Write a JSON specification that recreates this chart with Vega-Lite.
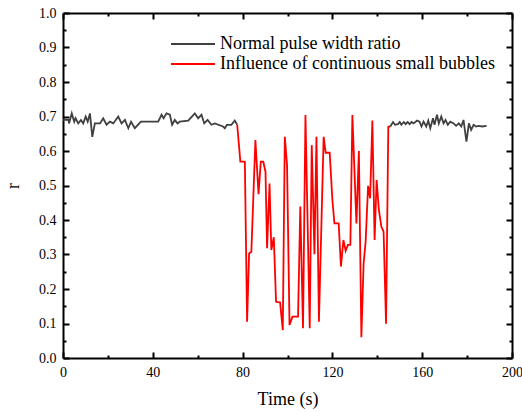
{
  "$schema": "https://vega.github.io/schema/vega-lite/v6.json",
  "width": 449,
  "height": 345,
  "autosize": {"type": "none"},
  "padding": {"left": 63, "top": 13, "right": 10, "bottom": 54},
  "background": "white",
  "config": {
    "view": {"stroke": null},
    "font": "Liberation Serif",
    "axis": {"labelFont": "Liberation Serif", "titleFont": "Liberation Serif", "labelColor": "black", "titleColor": "black", "domainColor": "black", "tickColor": "black", "grid": false, "titleFontWeight": "normal", "labelFlush": false, "labelOverlap": false}
  },
  "data": {"values": [
    {"t":0,"r":0.69,"series":"Normal pulse width ratio","seg":1},
    {"t":2.4,"r":0.69,"series":"Normal pulse width ratio","seg":1},
    {"t":2.7,"r":0.68,"series":"Normal pulse width ratio","seg":1},
    {"t":3.9,"r":0.709,"series":"Normal pulse width ratio","seg":1},
    {"t":5.0,"r":0.685,"series":"Normal pulse width ratio","seg":1},
    {"t":5.6,"r":0.695,"series":"Normal pulse width ratio","seg":1},
    {"t":6.8,"r":0.68,"series":"Normal pulse width ratio","seg":1},
    {"t":8.0,"r":0.69,"series":"Normal pulse width ratio","seg":1},
    {"t":9.0,"r":0.68,"series":"Normal pulse width ratio","seg":1},
    {"t":10.1,"r":0.70,"series":"Normal pulse width ratio","seg":1},
    {"t":11.0,"r":0.685,"series":"Normal pulse width ratio","seg":1},
    {"t":12.0,"r":0.709,"series":"Normal pulse width ratio","seg":1},
    {"t":13.05,"r":0.641,"series":"Normal pulse width ratio","seg":1},
    {"t":14.2,"r":0.68,"series":"Normal pulse width ratio","seg":1},
    {"t":16.5,"r":0.68,"series":"Normal pulse width ratio","seg":1},
    {"t":17.9,"r":0.695,"series":"Normal pulse width ratio","seg":1},
    {"t":19.4,"r":0.676,"series":"Normal pulse width ratio","seg":1},
    {"t":20.9,"r":0.685,"series":"Normal pulse width ratio","seg":1},
    {"t":22.4,"r":0.68,"series":"Normal pulse width ratio","seg":1},
    {"t":24.6,"r":0.70,"series":"Normal pulse width ratio","seg":1},
    {"t":26.1,"r":0.68,"series":"Normal pulse width ratio","seg":1},
    {"t":27.6,"r":0.69,"series":"Normal pulse width ratio","seg":1},
    {"t":29.1,"r":0.666,"series":"Normal pulse width ratio","seg":1},
    {"t":30.3,"r":0.685,"series":"Normal pulse width ratio","seg":1},
    {"t":32.0,"r":0.666,"series":"Normal pulse width ratio","seg":1},
    {"t":34.7,"r":0.685,"series":"Normal pulse width ratio","seg":1},
    {"t":42.4,"r":0.685,"series":"Normal pulse width ratio","seg":1},
    {"t":43.9,"r":0.705,"series":"Normal pulse width ratio","seg":1},
    {"t":44.8,"r":0.695,"series":"Normal pulse width ratio","seg":1},
    {"t":46.1,"r":0.709,"series":"Normal pulse width ratio","seg":1},
    {"t":47.6,"r":0.705,"series":"Normal pulse width ratio","seg":1},
    {"t":48.6,"r":0.676,"series":"Normal pulse width ratio","seg":1},
    {"t":49.8,"r":0.69,"series":"Normal pulse width ratio","seg":1},
    {"t":51.0,"r":0.68,"series":"Normal pulse width ratio","seg":1},
    {"t":52.0,"r":0.685,"series":"Normal pulse width ratio","seg":1},
    {"t":55.8,"r":0.688,"series":"Normal pulse width ratio","seg":1},
    {"t":58.7,"r":0.709,"series":"Normal pulse width ratio","seg":1},
    {"t":60.2,"r":0.695,"series":"Normal pulse width ratio","seg":1},
    {"t":61.7,"r":0.705,"series":"Normal pulse width ratio","seg":1},
    {"t":62.9,"r":0.68,"series":"Normal pulse width ratio","seg":1},
    {"t":64.4,"r":0.69,"series":"Normal pulse width ratio","seg":1},
    {"t":66.1,"r":0.676,"series":"Normal pulse width ratio","seg":1},
    {"t":67.6,"r":0.68,"series":"Normal pulse width ratio","seg":1},
    {"t":71.3,"r":0.671,"series":"Normal pulse width ratio","seg":1},
    {"t":72.1,"r":0.666,"series":"Normal pulse width ratio","seg":1},
    {"t":73.0,"r":0.676,"series":"Normal pulse width ratio","seg":1},
    {"t":75.0,"r":0.676,"series":"Normal pulse width ratio","seg":1},
    {"t":76.5,"r":0.688,"series":"Normal pulse width ratio","seg":1},
    {"t":77.6,"r":0.676,"series":"Normal pulse width ratio","seg":1},
    {"t":77.6,"r":0.676,"series":"Influence of continuous small bubbles","seg":2},
    {"t":79.0,"r":0.569,"series":"Influence of continuous small bubbles","seg":2},
    {"t":81.0,"r":0.569,"series":"Influence of continuous small bubbles","seg":2},
    {"t":82.0,"r":0.105,"series":"Influence of continuous small bubbles","seg":2},
    {"t":82.9,"r":0.303,"series":"Influence of continuous small bubbles","seg":2},
    {"t":83.9,"r":0.308,"series":"Influence of continuous small bubbles","seg":2},
    {"t":85.7,"r":0.632,"series":"Influence of continuous small bubbles","seg":2},
    {"t":87.1,"r":0.475,"series":"Influence of continuous small bubbles","seg":2},
    {"t":88.1,"r":0.569,"series":"Influence of continuous small bubbles","seg":2},
    {"t":89.2,"r":0.569,"series":"Influence of continuous small bubbles","seg":2},
    {"t":90.2,"r":0.54,"series":"Influence of continuous small bubbles","seg":2},
    {"t":90.9,"r":0.318,"series":"Influence of continuous small bubbles","seg":2},
    {"t":92.0,"r":0.506,"series":"Influence of continuous small bubbles","seg":2},
    {"t":92.8,"r":0.313,"series":"Influence of continuous small bubbles","seg":2},
    {"t":93.9,"r":0.35,"series":"Influence of continuous small bubbles","seg":2},
    {"t":94.9,"r":0.163,"series":"Influence of continuous small bubbles","seg":2},
    {"t":96.7,"r":0.161,"series":"Influence of continuous small bubbles","seg":2},
    {"t":97.9,"r":0.081,"series":"Influence of continuous small bubbles","seg":2},
    {"t":98.8,"r":0.641,"series":"Influence of continuous small bubbles","seg":2},
    {"t":99.8,"r":0.559,"series":"Influence of continuous small bubbles","seg":2},
    {"t":100.9,"r":0.096,"series":"Influence of continuous small bubbles","seg":2},
    {"t":102.2,"r":0.12,"series":"Influence of continuous small bubbles","seg":2},
    {"t":104.7,"r":0.12,"series":"Influence of continuous small bubbles","seg":2},
    {"t":105.7,"r":0.439,"series":"Influence of continuous small bubbles","seg":2},
    {"t":106.9,"r":0.086,"series":"Influence of continuous small bubbles","seg":2},
    {"t":108.0,"r":0.704,"series":"Influence of continuous small bubbles","seg":2},
    {"t":109.9,"r":0.086,"series":"Influence of continuous small bubbles","seg":2},
    {"t":110.8,"r":0.617,"series":"Influence of continuous small bubbles","seg":2},
    {"t":112.0,"r":0.301,"series":"Influence of continuous small bubbles","seg":2},
    {"t":112.9,"r":0.641,"series":"Influence of continuous small bubbles","seg":2},
    {"t":114.0,"r":0.105,"series":"Influence of continuous small bubbles","seg":2},
    {"t":116.1,"r":0.641,"series":"Influence of continuous small bubbles","seg":2},
    {"t":117.0,"r":0.595,"series":"Influence of continuous small bubbles","seg":2},
    {"t":118.8,"r":0.595,"series":"Influence of continuous small bubbles","seg":2},
    {"t":120.0,"r":0.458,"series":"Influence of continuous small bubbles","seg":2},
    {"t":120.9,"r":0.39,"series":"Influence of continuous small bubbles","seg":2},
    {"t":122.8,"r":0.39,"series":"Influence of continuous small bubbles","seg":2},
    {"t":123.8,"r":0.265,"series":"Influence of continuous small bubbles","seg":2},
    {"t":124.9,"r":0.342,"series":"Influence of continuous small bubbles","seg":2},
    {"t":125.9,"r":0.311,"series":"Influence of continuous small bubbles","seg":2},
    {"t":126.9,"r":0.328,"series":"Influence of continuous small bubbles","seg":2},
    {"t":128.0,"r":0.328,"series":"Influence of continuous small bubbles","seg":2},
    {"t":128.9,"r":0.704,"series":"Influence of continuous small bubbles","seg":2},
    {"t":130.7,"r":0.39,"series":"Influence of continuous small bubbles","seg":2},
    {"t":131.8,"r":0.6,"series":"Influence of continuous small bubbles","seg":2},
    {"t":132.9,"r":0.06,"series":"Influence of continuous small bubbles","seg":2},
    {"t":133.9,"r":0.274,"series":"Influence of continuous small bubbles","seg":2},
    {"t":134.8,"r":0.337,"series":"Influence of continuous small bubbles","seg":2},
    {"t":135.9,"r":0.499,"series":"Influence of continuous small bubbles","seg":2},
    {"t":136.8,"r":0.463,"series":"Influence of continuous small bubbles","seg":2},
    {"t":137.8,"r":0.688,"series":"Influence of continuous small bubbles","seg":2},
    {"t":138.8,"r":0.342,"series":"Influence of continuous small bubbles","seg":2},
    {"t":139.7,"r":0.516,"series":"Influence of continuous small bubbles","seg":2},
    {"t":140.7,"r":0.429,"series":"Influence of continuous small bubbles","seg":2},
    {"t":141.8,"r":0.381,"series":"Influence of continuous small bubbles","seg":2},
    {"t":142.8,"r":0.366,"series":"Influence of continuous small bubbles","seg":2},
    {"t":143.9,"r":0.099,"series":"Influence of continuous small bubbles","seg":2},
    {"t":144.9,"r":0.67,"series":"Influence of continuous small bubbles","seg":2},
    {"t":145.8,"r":0.671,"series":"Influence of continuous small bubbles","seg":2},
    {"t":145.8,"r":0.671,"series":"Normal pulse width ratio","seg":3},
    {"t":147.0,"r":0.684,"series":"Normal pulse width ratio","seg":3},
    {"t":147.9,"r":0.676,"series":"Normal pulse width ratio","seg":3},
    {"t":149.2,"r":0.678,"series":"Normal pulse width ratio","seg":3},
    {"t":150.0,"r":0.684,"series":"Normal pulse width ratio","seg":3},
    {"t":150.7,"r":0.676,"series":"Normal pulse width ratio","seg":3},
    {"t":151.8,"r":0.684,"series":"Normal pulse width ratio","seg":3},
    {"t":152.6,"r":0.678,"series":"Normal pulse width ratio","seg":3},
    {"t":153.5,"r":0.684,"series":"Normal pulse width ratio","seg":3},
    {"t":154.4,"r":0.678,"series":"Normal pulse width ratio","seg":3},
    {"t":155.3,"r":0.684,"series":"Normal pulse width ratio","seg":3},
    {"t":156.2,"r":0.68,"series":"Normal pulse width ratio","seg":3},
    {"t":157.7,"r":0.688,"series":"Normal pulse width ratio","seg":3},
    {"t":158.8,"r":0.685,"series":"Normal pulse width ratio","seg":3},
    {"t":159.7,"r":0.671,"series":"Normal pulse width ratio","seg":3},
    {"t":160.6,"r":0.685,"series":"Normal pulse width ratio","seg":3},
    {"t":161.8,"r":0.671,"series":"Normal pulse width ratio","seg":3},
    {"t":162.7,"r":0.688,"series":"Normal pulse width ratio","seg":3},
    {"t":163.6,"r":0.666,"series":"Normal pulse width ratio","seg":3},
    {"t":164.8,"r":0.695,"series":"Normal pulse width ratio","seg":3},
    {"t":165.5,"r":0.676,"series":"Normal pulse width ratio","seg":3},
    {"t":166.6,"r":0.705,"series":"Normal pulse width ratio","seg":3},
    {"t":167.4,"r":0.68,"series":"Normal pulse width ratio","seg":3},
    {"t":168.5,"r":0.70,"series":"Normal pulse width ratio","seg":3},
    {"t":169.5,"r":0.68,"series":"Normal pulse width ratio","seg":3},
    {"t":170.4,"r":0.69,"series":"Normal pulse width ratio","seg":3},
    {"t":171.4,"r":0.676,"series":"Normal pulse width ratio","seg":3},
    {"t":172.5,"r":0.685,"series":"Normal pulse width ratio","seg":3},
    {"t":174.0,"r":0.68,"series":"Normal pulse width ratio","seg":3},
    {"t":175.1,"r":0.673,"series":"Normal pulse width ratio","seg":3},
    {"t":176.3,"r":0.68,"series":"Normal pulse width ratio","seg":3},
    {"t":177.4,"r":0.671,"series":"Normal pulse width ratio","seg":3},
    {"t":178.4,"r":0.69,"series":"Normal pulse width ratio","seg":3},
    {"t":179.7,"r":0.627,"series":"Normal pulse width ratio","seg":3},
    {"t":180.8,"r":0.68,"series":"Normal pulse width ratio","seg":3},
    {"t":181.8,"r":0.661,"series":"Normal pulse width ratio","seg":3},
    {"t":182.9,"r":0.676,"series":"Normal pulse width ratio","seg":3},
    {"t":184.0,"r":0.671,"series":"Normal pulse width ratio","seg":3},
    {"t":185.2,"r":0.673,"series":"Normal pulse width ratio","seg":3},
    {"t":186.7,"r":0.671,"series":"Normal pulse width ratio","seg":3},
    {"t":188.7,"r":0.673,"series":"Normal pulse width ratio","seg":3}
  ]},
  "layer": [
    {
      "mark": {"type": "line", "strokeWidth": 1.8, "clip": true},
      "encoding": {
        "x": {"field": "t", "type": "quantitative", "scale": {"domain": [0, 200], "nice": false},
          "axis": {"orient": "bottom", "title": "Time (s)", "titleFontSize": 18, "titlePadding": 8, "values": [0,20,40,60,80,100,120,140,160,180,200],
            "labelExpr": "datum.value % 40 === 0 ? datum.label : ''", "labelFontSize": 14, "labelPadding": 13,
            "tickSize": {"condition": {"test": "datum.value % 40 === 0", "value": -6}, "value": -3},
            "tickWidth": 2, "domainWidth": 2}},
        "y": {"field": "r", "type": "quantitative", "scale": {"domain": [0, 1], "nice": false},
          "axis": {"orient": "left", "title": "r", "titleFontSize": 18, "titlePadding": 16,
            "values": [0,0.05,0.1,0.15,0.2,0.25,0.3,0.35,0.4,0.45,0.5,0.55,0.6,0.65,0.7,0.75,0.8,0.85,0.9,0.95,1.0],
            "labelExpr": "(round(datum.value*100) % 10 === 0) ? format(datum.value, '.1f') : ''", "labelFontSize": 14, "labelPadding": 13,
            "tickSize": {"condition": {"test": "round(datum.value*100) % 10 === 0", "value": -6}, "value": -3},
            "tickWidth": 2, "domainWidth": 2}},
        "color": {"field": "series", "type": "nominal",
          "scale": {"domain": ["Normal pulse width ratio", "Influence of continuous small bubbles"], "range": ["#404040", "#ff0000"]},
          "legend": {"title": null, "orient": "none", "legendX": 121, "legendY": 22, "symbolType": "M-4,0L4,0", "symbolSize": 121, "symbolStrokeWidth": 2, "symbolFillColor": "transparent",
            "labelFont": "Liberation Serif", "labelFontSize": 18, "labelColor": "black", "rowPadding": 2, "labelOffset": 18, "labelLimit": 0}},
        "detail": {"field": "seg", "type": "nominal"},
        "order": {"field": "t", "type": "quantitative"}
      }
    },
    {
      "mark": {"type": "line", "opacity": 0},
      "encoding": {
        "x": {"field": "t", "type": "quantitative", "scale": {"domain": [0, 200], "nice": false},
          "axis": {"orient": "top", "title": null, "labels": false, "values": [0,20,40,60,80,100,120,140,160,180,200],
            "tickSize": {"condition": {"test": "datum.value % 40 === 0", "value": -6}, "value": -3},
            "tickWidth": 2, "domainWidth": 2}},
        "y": {"field": "r", "type": "quantitative", "scale": {"domain": [0, 1], "nice": false},
          "axis": {"orient": "right", "title": null, "labels": false,
            "values": [0,0.05,0.1,0.15,0.2,0.25,0.3,0.35,0.4,0.45,0.5,0.55,0.6,0.65,0.7,0.75,0.8,0.85,0.9,0.95,1.0],
            "tickSize": {"condition": {"test": "round(datum.value*100) % 10 === 0", "value": -6}, "value": -3},
            "tickWidth": 2, "domainWidth": 2}},
        "detail": {"field": "seg", "type": "nominal"}
      }
    }
  ],
  "resolve": {"axis": {"x": "independent", "y": "independent"}}
}
